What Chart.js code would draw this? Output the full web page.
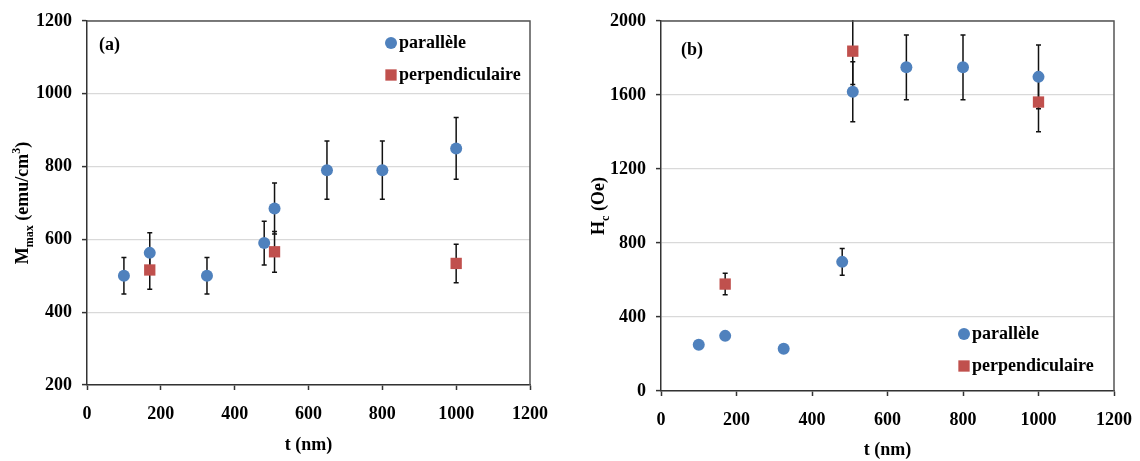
<!DOCTYPE html>
<html><head><meta charset="utf-8">
<script src="https://cdn.jsdelivr.net/npm/chart.js@4.4.0/dist/chart.umd.min.js"></script>
<style>
html,body{margin:0;padding:0;background:#fff;}
#wrap{position:relative;width:1140px;height:461px;background:#fff;}
.c{position:absolute;top:0;width:570px;height:461px;}
</style></head><body>
<div id="wrap">
<div class="c" style="left:0"><canvas id="ca" width="570" height="461"></canvas></div>
<div class="c" style="left:570px"><canvas id="cb" width="570" height="461"></canvas></div>
</div>
<script>
// ---- data ----
const seriesNames = ['parallèle', 'perpendiculaire'];
const xTicks = [0, 200, 400, 600, 800, 1000, 1200];
const yTicksA = [200, 400, 600, 800, 1000, 1200];
const yTicksB = [0, 400, 800, 1200, 1600, 2000];

// (a) Mmax
const tParA = [100, 170, 325, 480, 508, 650, 800, 1000];
const mParA = [500, 563, 500, 590, 685, 790, 790, 850];
const eParA = [50, 55, 50, 60, 70, 80, 80, 85];
const tPerA = [170, 508, 1000];
const mPerA = [516, 566, 534];
const ePerA = [53, 56, 53];

// (b) Hc
const tParB = [100, 170, 325, 480, 508, 650, 800, 1000];
const hParB = [250, 298, 228, 698, 1618, 1750, 1750, 1698];
const eParB = [20, 20, 20, 72, 162, 175, 175, 172];
const tPerB = [170, 508, 1000];
const hPerB = [578, 1837, 1562];
const ePerB = [58, 180, 160];

const yTitleA = [['M', 0], ['max', 1], [' (emu/cm', 0], ['3', -1], [')', 0]];
const yTitleB = [['H', 0], ['c', 1], [' (Oe)', 0]];

// ---- styles ----
const BLUE = '#4F81BD', RED = '#C0504D';
const FONT = '"Liberation Serif", "Times New Roman", serif';

const pts = (xs, ys) => xs.map((v, i) => ({x: v, y: ys[i]}));

const errorBars = {
  id: 'errorBars',
  beforeDatasetsDraw(chart) {
    const {ctx, chartArea: a, scales: {x, y}} = chart;
    ctx.save();
    ctx.beginPath(); ctx.rect(a.left, a.top - 1, a.right - a.left, a.bottom - a.top + 1); ctx.clip();
    ctx.strokeStyle = '#111'; ctx.lineWidth = 1.5;
    chart.data.datasets.forEach(ds => {
      if (!ds.errors) return;
      ds.data.forEach((p, i) => {
        const e = ds.errors[i]; if (!e) return;
        const px = x.getPixelForValue(p.x);
        const y1 = y.getPixelForValue(p.y + e), y2 = y.getPixelForValue(p.y - e);
        ctx.beginPath();
        ctx.moveTo(px, y1); ctx.lineTo(px, y2);
        ctx.moveTo(px - 2.5, y1); ctx.lineTo(px + 2.5, y1);
        ctx.moveTo(px - 2.5, y2); ctx.lineTo(px + 2.5, y2);
        ctx.stroke();
      });
    });
    ctx.restore();
  }
};

const extras = {
  id: 'extras',
  afterDraw(chart, args, o) {
    const {ctx, chartArea: a} = chart;
    ctx.save();
    // frame
    ctx.strokeStyle = '#555'; ctx.lineWidth = 1.5;
    ctx.beginPath();
    ctx.moveTo(a.left, a.top); ctx.lineTo(a.right, a.top); ctx.lineTo(a.right, a.bottom);
    ctx.stroke();
    // panel label
    ctx.fillStyle = '#000';
    ctx.font = 'bold 18px ' + FONT;
    ctx.textBaseline = 'middle'; ctx.textAlign = 'left';
    ctx.fillText(o.panel, a.left + o.panelDx, a.top + o.panelDy);
    // legend
    ctx.font = 'bold 18px ' + FONT;
    chart.data.datasets.forEach((ds, i) => {
      const cx = a.left + o.legDx, cy = a.top + o.legDy + i * o.legGap;
      ctx.fillStyle = ds.backgroundColor;
      Chart.helpers.drawPoint(ctx, {pointStyle: ds.pointStyle, radius: ds.pointRadius, borderWidth: 0, rotation: 0}, cx, cy);
      ctx.fillStyle = '#000';
      ctx.fillText(ds.label, cx + 8, cy);
    });
    // y title with sub/superscripts
    const big = 'bold 18px ' + FONT, small = 'bold 12px ' + FONT;
    let total = 0;
    o.yTitle.forEach(([t, s]) => { ctx.font = s ? small : big; total += ctx.measureText(t).width; });
    ctx.translate(o.yTitleX, (a.top + a.bottom) / 2);
    ctx.rotate(-Math.PI / 2);
    ctx.textAlign = 'left'; ctx.textBaseline = 'alphabetic';
    let xx = -total / 2;
    o.yTitle.forEach(([t, s]) => {
      ctx.font = s ? small : big;
      const dy = s === 1 ? 5 : (s === -1 ? -8 : 0);
      ctx.fillText(t, xx, 6 + dy);
      xx += ctx.measureText(t).width;
    });
    ctx.restore();
  }
};

function makeChart(id, dsPar, dsPer, yTicks, pad, ext) {
  return new Chart(document.getElementById(id), {
    type: 'scatter',
    data: {
      datasets: [
        {label: seriesNames[0], data: dsPar.data, errors: dsPar.err, pointStyle: 'circle', pointRadius: 6,
         backgroundColor: BLUE, borderWidth: 0, pointHoverRadius: 6},
        {label: seriesNames[1], data: dsPer.data, errors: dsPer.err, pointStyle: 'rect', pointRadius: 8,
         backgroundColor: RED, borderWidth: 0, pointHoverRadius: 8}
      ]
    },
    options: {
      responsive: false, animation: false,
      layout: {padding: pad},
      plugins: {legend: {display: false}, tooltip: {enabled: false}, extras: ext},
      scales: {
        x: {
          type: 'linear', min: xTicks[0], max: xTicks[xTicks.length - 1],
          afterBuildTicks: s => { s.ticks = xTicks.map(v => ({value: v})); },
          afterFit: s => { s.height = ext.xH; s.paddingLeft = 0; s.paddingRight = 0; },
          ticks: {color: '#000', font: {family: FONT, size: 18, weight: 'bold'}, padding: 14, maxRotation: 0,
                  callback: v => String(v)},
          grid: {drawOnChartArea: false, tickLength: 5, tickColor: '#333', tickWidth: 1.5},
          border: {color: '#333', width: 1.5},
          title: {display: true, text: 't (nm)', color: '#000', font: {family: FONT, size: 18, weight: 'bold'}, padding: {top: 0, bottom: 0}}
        },
        y: {
          type: 'linear', min: yTicks[0], max: yTicks[yTicks.length - 1],
          afterBuildTicks: s => { s.ticks = yTicks.map(v => ({value: v})); },
          afterFit: s => { s.width = ext.yW; s.paddingTop = 0; s.paddingBottom = 0; },
          ticks: {color: '#000', font: {family: FONT, size: 18, weight: 'bold'}, padding: 10, callback: v => String(v)},
          grid: {color: '#d9d9d9', lineWidth: 1.2, tickLength: 5, tickColor: '#333', tickWidth: 1.5},
          border: {color: '#333', width: 1.5}
        }
      }
    },
    plugins: [errorBars, extras]
  });
}

makeChart('ca',
  {data: pts(tParA, mParA), err: eParA},
  {data: pts(tPerA, mPerA), err: ePerA},
  yTicksA,
  {left: 0, right: 40, top: 21, bottom: 5},
  {panel: '(a)', panelDx: 12, panelDy: 24, legDx: 304, legDy: 22, legGap: 32,
   yTitle: yTitleA, yTitleX: 22, yW: 87, xH: 71});

makeChart('cb',
  {data: pts(tParB, hParB), err: eParB},
  {data: pts(tPerB, hPerB), err: ePerB},
  yTicksB,
  {left: 0, right: 26, top: 21, bottom: 0},
  {panel: '(b)', panelDx: 20, panelDy: 29, legDx: 303, legDy: 313, legGap: 32,
   yTitle: yTitleB, yTitleX: 28, yW: 91, xH: 70});
</script>
</body></html>
